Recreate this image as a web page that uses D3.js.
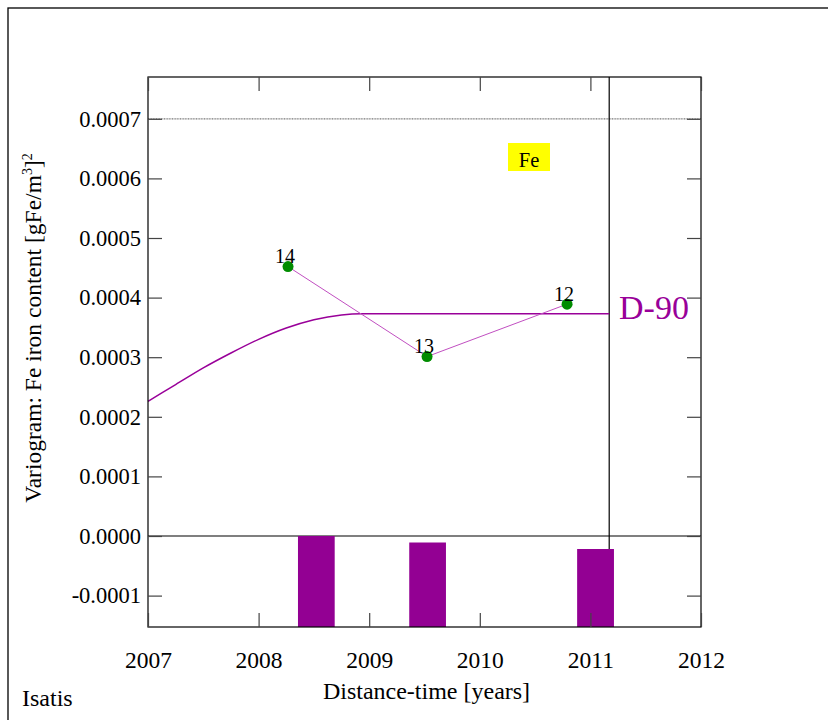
<!DOCTYPE html>
<html>
<head>
<meta charset="utf-8">
<script src="https://cdn.jsdelivr.net/npm/d3@7"></script>
<style>
  html, body { margin: 0; padding: 0; background: #fff; }
  svg { display: block; }
  text { font-family: "Liberation Serif", "Times New Roman", serif; }
</style>
</head>
<body>
<svg id="chart" width="828" height="720"></svg>
<script>
// ---- data ----
const xTicks = [2007, 2008, 2009, 2010, 2011, 2012];
const yTicks = [-0.0001, 0.0000, 0.0001, 0.0002, 0.0003, 0.0004, 0.0005, 0.0006, 0.0007];
const expLags = [2008.266, 2009.523, 2010.789];
const expValues = [0.000452, 0.000301, 0.000389];
const expPairs = [14, 13, 12];
const modelLags = [2007.0, 2007.25, 2007.5, 2007.75, 2008.0, 2008.25, 2008.5, 2008.75, 2008.93, 2011.17];
const modelValues = [0.000226, 0.000254, 0.000282, 0.000307, 0.000330, 0.000349, 0.000363, 0.000371, 0.000373, 0.000373];
const barStarts = [2008.356, 2009.362, 2010.880];
const barEnds = [2008.688, 2009.694, 2011.213];
const barPairs = [14, 13, 12];
const varianceLevel = 0.0007;
const cutoffLag = 2011.17;
const modelName = "D-90";
const variableName = "Fe";

// ---- layout ----
const L = 148, R = 701, T = 77, B = 627;
const svg = d3.select("#chart");

const x = d3.scaleLinear().domain([2007, 2012]).range([L, R]);
const y = d3.scaleLinear().domain([-0.00015268, 0.00077013]).range([B, T]);
const hist = d3.scaleLinear().domain([0, 14]).range([B, y(0)]);

// outer frame
svg.append("rect").attr("x", 8).attr("y", 8).attr("width", 860).attr("height", 760)
  .attr("fill", "none").attr("stroke", "#000").attr("stroke-width", 1.3);

// variance line (dotted grey)
svg.append("line").attr("x1", L).attr("x2", R).attr("y1", y(varianceLevel)).attr("y2", y(varianceLevel))
  .attr("stroke", "#777").attr("stroke-width", 1.2).attr("stroke-dasharray", "1,0.6");

// zero line
svg.append("line").attr("x1", L).attr("x2", R).attr("y1", y(0)).attr("y2", y(0))
  .attr("stroke", "#555").attr("stroke-width", 1.3);

// cutoff vertical line
svg.append("line").attr("x1", x(cutoffLag)).attr("x2", x(cutoffLag)).attr("y1", T).attr("y2", B)
  .attr("stroke", "#000").attr("stroke-width", 1.2);

// histogram bars
svg.append("g").selectAll("rect").data(barPairs).join("rect")
  .attr("x", (d, i) => x(barStarts[i]))
  .attr("width", (d, i) => x(barEnds[i]) - x(barStarts[i]))
  .attr("y", d => hist(d))
  .attr("height", d => B - hist(d))
  .attr("fill", "#930093");

// model curve
const modelLine = d3.line().x((d, i) => x(modelLags[i])).y(d => y(d)).curve(d3.curveMonotoneX);
svg.append("path").attr("d", modelLine(modelValues))
  .attr("fill", "none").attr("stroke", "#990099").attr("stroke-width", 1.5);

// experimental line
const expLine = d3.line().x((d, i) => x(expLags[i])).y(d => y(d));
svg.append("path").attr("d", expLine(expValues))
  .attr("fill", "none").attr("stroke", "#c14fc1").attr("stroke-width", 1);

// points
svg.append("g").selectAll("circle").data(expValues).join("circle")
  .attr("cx", (d, i) => x(expLags[i])).attr("cy", d => y(d)).attr("r", 5.5)
  .attr("fill", "#008c00");

// pair labels
svg.append("g").selectAll("text").data(expPairs).join("text")
  .attr("x", (d, i) => x(expLags[i]) - 3).attr("y", (d, i) => y(expValues[i]) - 3.5)
  .attr("text-anchor", "middle").attr("font-size", 20).attr("fill", "#000")
  .text(d => d);

// axes: plot frame
svg.append("rect").attr("x", L).attr("y", T).attr("width", R - L).attr("height", B - T)
  .attr("fill", "none").attr("stroke", "#000").attr("stroke-width", 1.2);

// ticks (inward)
const tk = 14;
const fmtY = v => d3.format(".4f")(v).replace("\u2212", "-");
const axB = svg.append("g").attr("transform", `translate(0,${B})`)
  .call(d3.axisBottom(x).tickValues(xTicks).tickSize(-tk).tickFormat(d3.format("d")).tickPadding(24));
const axT = svg.append("g").attr("transform", `translate(0,${T})`)
  .call(d3.axisTop(x).tickValues(xTicks).tickSize(-tk).tickFormat(""));
const axL = svg.append("g").attr("transform", `translate(${L},0)`)
  .call(d3.axisLeft(y).tickValues(yTicks).tickSize(-tk).tickFormat(fmtY).tickPadding(7));
const axR = svg.append("g").attr("transform", `translate(${R},0)`)
  .call(d3.axisRight(y).tickValues(yTicks).tickSize(-tk).tickFormat(""));
[axB, axT, axL, axR].forEach(g => {
  g.select(".domain").remove();
  g.selectAll(".tick line").attr("stroke", "#444").attr("stroke-width", 1.2);
});
axB.selectAll(".tick text").attr("font-size", 23.5).attr("fill", "#000")
  .attr("font-family", "Liberation Serif");
axL.selectAll(".tick text").attr("font-size", 22.5).attr("fill", "#000")
  .attr("font-family", "Liberation Serif");

// Fe label with yellow box
svg.append("rect").attr("x", 508).attr("y", 143).attr("width", 42).attr("height", 28).attr("fill", "#ffff00");
svg.append("text").attr("x", 529).attr("y", 166.5).attr("text-anchor", "middle")
  .attr("font-size", 20.5).attr("fill", "#000").text(variableName);

// model name
svg.append("text").attr("x", 619).attr("y", 319).attr("font-size", 34).attr("fill", "#990099").text(modelName);

// axis titles
svg.append("text").attr("x", (L + R) / 2 + 2).attr("y", 699).attr("text-anchor", "middle")
  .attr("font-size", 24).attr("fill", "#000").text("Distance-time [years]");

const yt = svg.append("text").attr("transform", "translate(41,328) rotate(-90)")
  .attr("text-anchor", "middle").attr("font-size", 23.5).attr("fill", "#000");
yt.append("tspan").text("Variogram: Fe iron content [gFe/m");
yt.append("tspan").attr("font-size", 14).attr("dy", -9).text("3");
yt.append("tspan").attr("dy", 9).text("]");
yt.append("tspan").attr("font-size", 14).attr("dy", -9).text("2");

// software mark
svg.append("text").attr("x", 22).attr("y", 706).attr("font-size", 24).attr("fill", "#000").text("Isatis");
</script>
</body>
</html>
